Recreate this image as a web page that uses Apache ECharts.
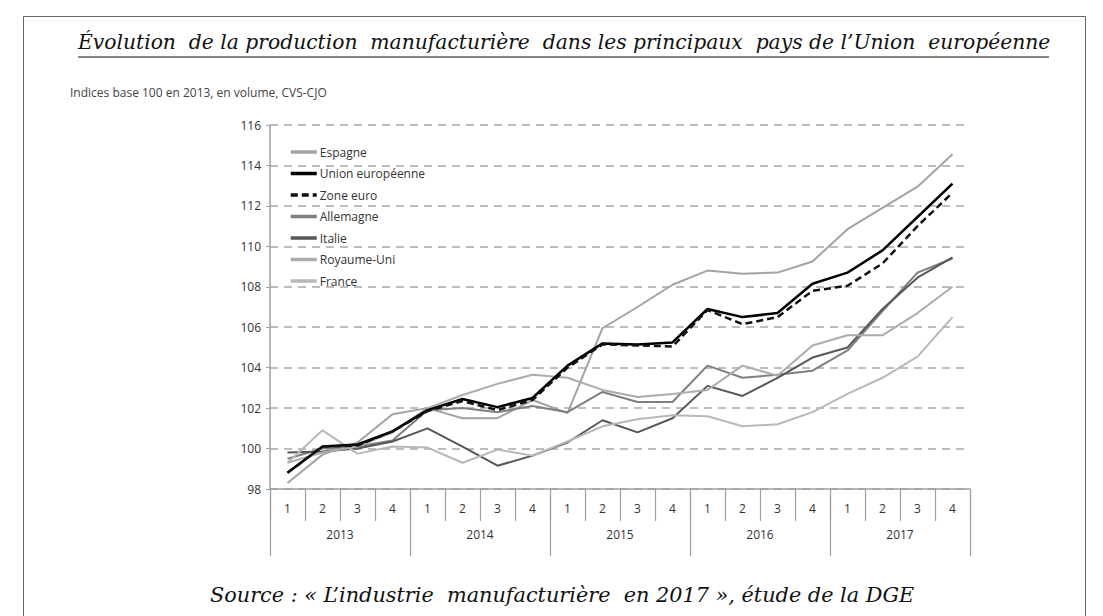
<!DOCTYPE html>
<html><head><meta charset="utf-8">
<script src="https://cdn.jsdelivr.net/npm/echarts@6/dist/echarts.min.js"></script>
<style>html,body{margin:0;padding:0;background:#fff}#c{width:1103px;height:616px}</style>
</head><body><div id="c"></div>
<script>
const quarters = ['2013-1','2013-2','2013-3','2013-4','2014-1','2014-2','2014-3','2014-4','2015-1','2015-2','2015-3','2015-4','2016-1','2016-2','2016-3','2016-4','2017-1','2017-2','2017-3','2017-4'];
const years = ['2013','2014','2015','2016','2017'];
const yTicks = {min: 98, max: 116, step: 2};

const espagne = [98.3, 99.7, 100.3, 101.7, 102.0, 101.5, 101.5, 102.4, 101.75, 105.95, 107.0, 108.1, 108.8, 108.65, 108.7, 109.25, 110.85, 111.9, 112.95, 114.55];
const ue = [98.8, 100.1, 100.2, 100.85, 101.9, 102.45, 102.05, 102.5, 104.1, 105.2, 105.15, 105.25, 106.9, 106.5, 106.7, 108.15, 108.7, 109.8, 111.45, 113.1];
const zoneEuro = [98.8, 100.1, 100.15, 100.85, 101.85, 102.35, 101.9, 102.4, 104.0, 105.15, 105.1, 105.05, 106.85, 106.15, 106.5, 107.8, 108.05, 109.15, 111.0, 112.65];
const allemagne = [99.5, 100.0, 100.1, 100.4, 101.9, 102.0, 101.8, 102.1, 101.8, 102.8, 102.3, 102.3, 104.1, 103.5, 103.65, 103.85, 104.85, 106.8, 108.7, 109.4];
const italie = [99.8, 99.85, 100.0, 100.35, 101.0, 100.1, 99.15, 99.65, 100.3, 101.4, 100.8, 101.5, 103.1, 102.6, 103.5, 104.5, 105.0, 106.9, 108.45, 109.45];
const royaumeUni = [99.3, 99.8, 100.1, 100.8, 102.0, 102.65, 103.2, 103.65, 103.5, 102.9, 102.55, 102.7, 102.9, 104.1, 103.6, 105.1, 105.6, 105.6, 106.7, 108.0];
const france = [99.3, 100.9, 99.75, 100.1, 100.05, 99.3, 99.95, 99.65, 100.35, 101.1, 101.45, 101.65, 101.6, 101.1, 101.2, 101.8, 102.7, 103.5, 104.55, 106.5];

const titleText = 'Évolution  de la production  manufacturière  dans les principaux  pays de l’Union  européenne';
const subText = 'Indices base 100 en 2013, en volume, CVS-CJO';
const sourceText = 'Source : « L’industrie  manufacturière  en 2017 », étude de la DGE';

const chart = echarts.init(document.getElementById('c'), null, {renderer: 'svg'});
const sansFont = '"Open Sans", "Noto Sans", sans-serif';
const serifFont = '"DejaVu Serif", serif';

function line(name, data, color, width, type, z) {
  return {name, type: 'line', data, symbol: 'none', z: z || 2,
    lineStyle: {color, width, type: type || 'solid'}, itemStyle: {color}};
}

chart.setOption({
  animation: false,
  backgroundColor: '#fff',
  grid: {left: 270, right: 133, top: 125, bottom: 127, containLabel: false},
  legend: {
    orient: 'vertical', left: 284, top: 141, itemGap: 9.5, itemWidth: 26, itemHeight: 12,
    itemStyle: {opacity: 0},
    lineStyle: {width: 3.5},
    data: ['Espagne','Union européenne','Zone euro','Allemagne','Italie','Royaume-Uni','France'],
    textStyle: {fontFamily: sansFont, fontSize: 12, color: '#333', padding: [0,0,0,-2]}
  },
  xAxis: [
    {type: 'category', data: quarters, position: 'bottom', boundaryGap: true,
     axisLine: {show: true, lineStyle: {color: '#a0a0a0', width: 1.5}},
     axisTick: {show: true, interval: 0, length: 32, lineStyle: {color: '#a0a0a0', width: 1.2}},
     axisLabel: {interval: 0, margin: 13, fontFamily: sansFont, fontSize: 12, color: '#333',
       formatter: v => v.split('-')[1]}},
    {type: 'category', data: years, position: 'bottom', boundaryGap: true,
     axisLine: {show: false},
     axisTick: {show: true, interval: 0, length: 67, lineStyle: {color: '#a0a0a0', width: 1.2}},
     axisLabel: {interval: 0, margin: 39, fontFamily: sansFont, fontSize: 12, color: '#333'}}
  ],
  yAxis: {
    type: 'value', min: yTicks.min, max: yTicks.max, interval: yTicks.step,
    axisLine: {show: true, lineStyle: {color: '#a0a0a0', width: 1.5}},
    axisTick: {show: true, length: 4, lineStyle: {color: '#a0a0a0'}},
    axisLabel: {margin: 9, fontFamily: sansFont, fontSize: 12, color: '#333'},
    splitLine: {show: true, lineStyle: {color: '#a8a8a8', width: 1.5, type: [8, 6]}}
  },
  series: [
    line('Espagne', espagne, '#a3a3a3', 2),
    line('Allemagne', allemagne, '#7f7f7f', 2),
    line('Italie', italie, '#575757', 2),
    line('Royaume-Uni', royaumeUni, '#acacac', 2),
    line('France', france, '#b8b8b8', 2),
    line('Zone euro', zoneEuro, '#111', 2.5, [7, 4], 4),
    line('Union européenne', ue, '#000', 2.5, 'solid', 3)
  ],
  graphic: [
    {type: 'rect', left: 21, top: 14, shape: {width: 1062, height: 620},
     style: {fill: 'none', stroke: '#666', lineWidth: 1}, silent: true},
    {type: 'text', left: 78, top: 32,
     style: {text: titleText, font: 'italic 20.3px ' + serifFont, fill: '#111'}},
    {type: 'line', shape: {x1: 78, y1: 57, x2: 1049, y2: 57}, style: {stroke: '#111', lineWidth: 1}},
    {type: 'text', left: 70, top: 86,
     style: {text: subText, font: '12px ' + sansFont, fill: '#444'}},
    {type: 'text', left: 210, top: 584,
     style: {text: sourceText, font: 'italic 20.8px ' + serifFont, fill: '#111'}}
  ]
});
</script></body></html>
